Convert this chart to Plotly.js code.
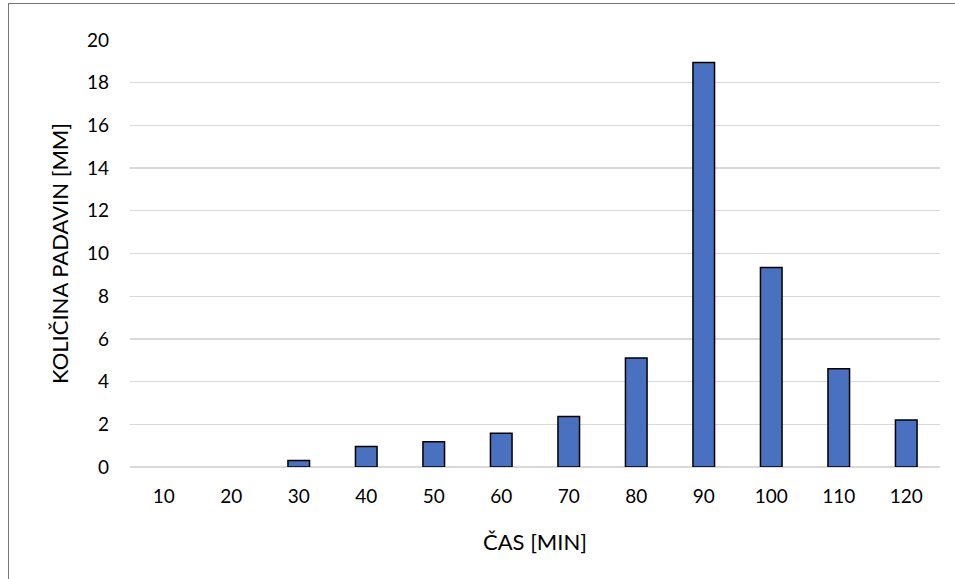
<!DOCTYPE html>
<html>
<head>
<meta charset="utf-8">
<script src="https://cdn.plot.ly/plotly-3.0.1.min.js"></script>
<style>
html,body{margin:0;padding:0;background:#fff;}
#wrap{position:relative;width:955px;height:579px;overflow:hidden;}
#chart{position:absolute;left:0;top:0;width:955px;height:579px;}
#frame{position:absolute;left:8px;top:3px;width:960px;height:600px;border:1.5px solid #777;pointer-events:none;}
</style>
</head>
<body>
<div id="wrap"><div id="chart"></div><div id="frame"></div></div>
<script>
const categories = ["10","20","30","40","50","60","70","80","90","100","110","120"];
const values = [0, 0, 0.30, 0.96, 1.18, 1.58, 2.37, 5.10, 18.95, 9.34, 4.60, 2.20];
const yTicks = [0,2,4,6,8,10,12,14,16,18,20];
const xTitle = "ČAS [MIN]";
const yTitle = "KOLIČINA PADAVIN [MM]";

const font = "Lato, 'Open Sans', sans-serif";
Plotly.newPlot("chart", [{
  type: "bar",
  x: categories,
  y: values,
  marker: {
    color: "#4a70c0",
    line: {color: "#000", width: values.map(v => v > 0 ? 1.5 : 0)}
  },
  hoverinfo: "x+y"
}], {
  width: 955, height: 579,
  margin: {l: 130, r: 15, t: 40, b: 112},
  paper_bgcolor: "rgba(0,0,0,0)",
  plot_bgcolor: "#fff",
  bargap: 0.68,
  showlegend: false,
  font: {family: font, size: 19, color: "#000"},
  xaxis: {
    type: "category",
    showgrid: false,
    showline: false,
    ticks: "",
    ticklabelstandoff: 16,
    tickfont: {size: 19},
    title: {text: xTitle, font: {size: 22}, standoff: 28},
    automargin: false
  },
  yaxis: {
    range: [0, 20],
    tickvals: yTicks,
    gridcolor: "#d9d9d9",
    gridwidth: 1.3,
    zeroline: true,
    zerolinecolor: "#d9d9d9",
    zerolinewidth: 1.3,
    showline: false,
    ticks: "",
    ticklabelstandoff: 20,
    tickfont: {size: 19},
    title: {text: yTitle, font: {size: 22}, standoff: 12},
    automargin: false
  }
}, {displayModeBar: false, staticPlot: true});
</script>
</body>
</html>
